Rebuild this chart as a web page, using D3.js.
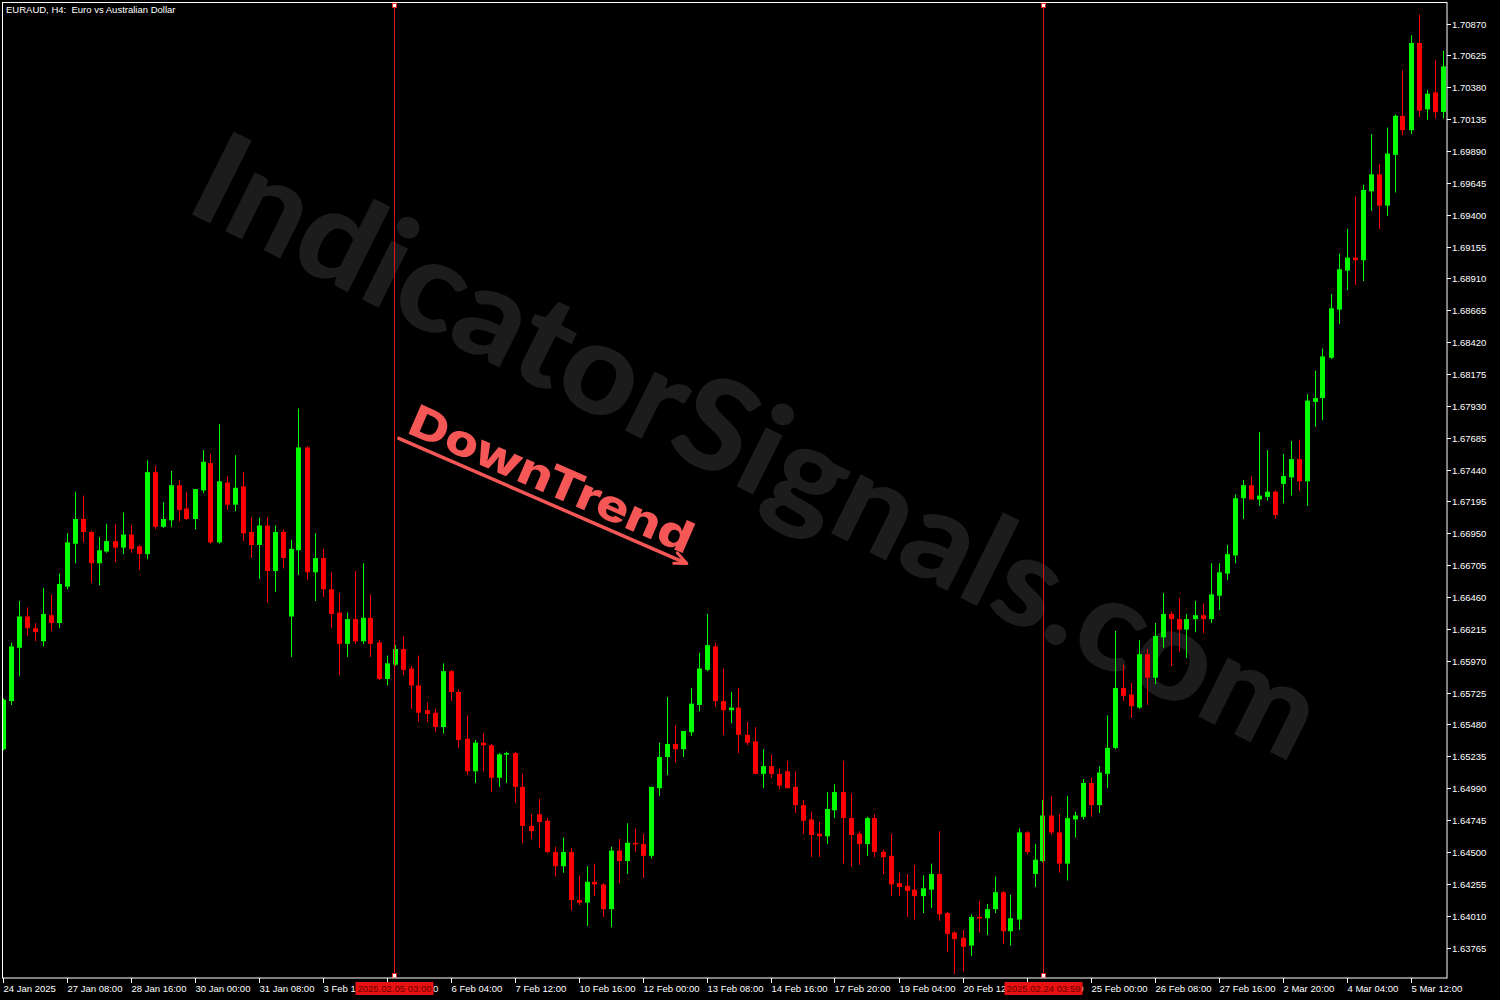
<!DOCTYPE html>
<html><head><meta charset="utf-8">
<script src="https://cdn.jsdelivr.net/npm/d3@7"></script>
<style>
html,body{margin:0;padding:0;background:#000;}
svg{display:block;}
</style></head>
<body>
<svg id="chart" width="1500" height="1000"></svg>
<script>
const symbolTitle = "EURAUD, H4:  Euro vs Australian Dollar";
const watermarkText = "IndicatorSignals.com";
const annotationText = "DownTrend";

const openP = [
1.6529,1.6566,1.6607,1.6631,1.6622,1.6612,1.6632,1.6626,1.6654,1.6687,
1.6706,1.6696,1.6672,1.6681,1.6689,1.6684,1.6694,1.6685,1.6679,1.6742,
1.6700,1.6705,1.6732,1.6714,1.6706,1.6728,1.6749,1.6688,1.6734,1.6717,
1.6731,1.6696,1.6686,1.6701,1.6666,1.6696,1.6631,1.6682,1.6761,1.6665,
1.6676,1.6652,1.6634,1.6610,1.6629,1.6612,1.6630,1.6611,1.6583,1.6594,
1.6606,1.6591,1.6578,1.6559,1.6557,1.6546,1.6589,1.6573,1.6537,1.6512,
1.6534,1.6532,1.6507,1.6525,1.6526,1.6500,1.6470,1.6479,1.6474,1.6450,
1.6439,1.6450,1.6413,1.6411,1.6427,1.6425,1.6406,1.6451,1.6443,1.6457,
1.6456,1.6447,1.6499,1.6523,1.6533,1.6529,1.6542,1.6563,1.6590,1.6608,
1.6566,1.6559,1.6561,1.6540,1.6535,1.6510,1.6516,1.6510,1.6512,1.6500,
1.6486,1.6475,1.6464,1.6462,1.6482,1.6496,1.6476,1.6464,1.6456,1.6476,
1.6450,1.6447,1.6426,1.6424,1.6421,1.6416,1.6421,1.6433,1.6403,1.6388,
1.6384,1.6378,1.6400,1.6399,1.6406,1.6419,1.6389,1.6398,1.6465,1.6433,
1.6443,1.6478,1.6465,1.6441,1.6475,1.6477,1.6503,1.6486,1.6510,1.6530,
1.6576,1.6571,1.6561,1.6602,1.6584,1.6615,1.6633,1.6629,1.6621,1.6629,
1.6632,1.6629,1.6647,1.6664,1.6678,1.6722,1.6732,1.6721,1.6723,1.6727,
1.6733,1.6738,1.6752,1.6735,1.6796,1.6799,1.6830,1.6867,1.6897,1.6907,
1.6905,1.6958,1.6971,1.6947,1.6986,1.7016,1.7005,1.7072,1.7021,1.7034,
1.7019];
const highP = [
1.6568,1.6611,1.6643,1.6638,1.6626,1.6653,1.6648,1.6664,1.6695,1.6727,
1.6724,1.6697,1.6692,1.6702,1.6702,1.6711,1.6701,1.6686,1.6751,1.6747,
1.6719,1.6743,1.6736,1.6727,1.6729,1.6759,1.6756,1.6779,1.6739,1.6755,
1.6742,1.6707,1.6707,1.6707,1.6701,1.6698,1.6690,1.6791,1.6762,1.6695,
1.6683,1.6665,1.6649,1.6634,1.6666,1.6672,1.6648,1.6613,1.6601,1.6609,
1.6616,1.6593,1.6601,1.6565,1.6560,1.6595,1.6590,1.6575,1.6555,1.6536,
1.6541,1.6533,1.6526,1.6527,1.6527,1.6510,1.6479,1.6491,1.6476,1.6454,
1.6461,1.6453,1.6432,1.6439,1.6441,1.6426,1.6454,1.6460,1.6472,1.6468,
1.6464,1.6500,1.6534,1.6569,1.6547,1.6543,1.6576,1.6603,1.6633,1.6611,
1.6591,1.6573,1.6576,1.6550,1.6546,1.6529,1.6525,1.6514,1.6520,1.6512,
1.6490,1.6481,1.6473,1.6496,1.6502,1.6520,1.6495,1.6466,1.6477,1.6479,
1.6452,1.6464,1.6434,1.6433,1.6440,1.6432,1.6441,1.6466,1.6404,1.6389,
1.6390,1.6402,1.6412,1.6410,1.6431,1.6420,1.6417,1.6468,1.6466,1.6456,
1.6490,1.6493,1.6479,1.6493,1.6481,1.6506,1.6507,1.6516,1.6555,1.6620,
1.6594,1.6580,1.6613,1.6606,1.6626,1.6649,1.6635,1.6645,1.6633,1.6643,
1.6641,1.6672,1.6672,1.6686,1.6725,1.6736,1.6739,1.6773,1.6759,1.6728,
1.6756,1.6766,1.6767,1.6802,1.6820,1.6837,1.6879,1.6910,1.6929,1.6954,
1.6963,1.7002,1.6979,1.7007,1.7017,1.7051,1.7078,1.7094,1.7036,1.7059,
1.7066];
const lowP = [
1.6528,1.6563,1.6585,1.6616,1.6612,1.6608,1.6620,1.6622,1.6652,1.6672,
1.6688,1.6657,1.6655,1.6680,1.6673,1.6679,1.6680,1.6667,1.6675,1.6698,
1.6699,1.6700,1.6704,1.6705,1.6698,1.6726,1.6687,1.6687,1.6713,1.6712,
1.6689,1.6676,1.6660,1.6642,1.6650,1.6668,1.6600,1.6663,1.6659,1.6643,
1.6646,1.6622,1.6586,1.6600,1.6610,1.6610,1.6600,1.6582,1.6578,1.6593,
1.6586,1.6560,1.6550,1.6550,1.6542,1.6541,1.6566,1.6530,1.6509,1.6503,
1.6512,1.6496,1.6500,1.6503,1.6488,1.6457,1.6460,1.6453,1.6449,1.6431,
1.6434,1.6405,1.6409,1.6393,1.6416,1.6400,1.6392,1.6426,1.6433,1.6450,
1.6430,1.6445,1.6493,1.6509,1.6519,1.6523,1.6539,1.6558,1.6589,1.6562,
1.6540,1.6549,1.6526,1.6532,1.6510,1.6499,1.6507,1.6498,1.6499,1.6480,
1.6464,1.6446,1.6446,1.6456,1.6476,1.6441,1.6439,1.6440,1.6447,1.6446,
1.6433,1.6416,1.6416,1.6400,1.6398,1.6403,1.6407,1.6397,1.6373,1.6356,
1.6358,1.6370,1.6388,1.6386,1.6403,1.6379,1.6378,1.6390,1.6448,1.6423,
1.6442,1.6463,1.6434,1.6428,1.6461,1.6475,1.6477,1.6480,1.6499,1.6529,
1.6566,1.6553,1.6560,1.6563,1.6579,1.6607,1.6593,1.6604,1.6599,1.6619,
1.6618,1.6626,1.6636,1.6659,1.6672,1.6706,1.6721,1.6716,1.6720,1.6706,
1.6718,1.6724,1.6728,1.6716,1.6777,1.6782,1.6829,1.6856,1.6882,1.6886,
1.6889,1.6943,1.6929,1.6939,1.6957,1.7001,1.7002,1.7015,1.7013,1.7014,
1.7014];
const closeP = [
1.6567,1.6608,1.6631,1.6622,1.6619,1.6633,1.6626,1.6656,1.6688,1.6706,
1.6696,1.6672,1.6682,1.6689,1.6684,1.6694,1.6683,1.6679,1.6742,1.6700,
1.6706,1.6732,1.6713,1.6706,1.6729,1.6750,1.6688,1.6735,1.6717,1.6730,
1.6695,1.6686,1.6701,1.6666,1.6696,1.6676,1.6683,1.6761,1.6665,1.6676,
1.6652,1.6633,1.6610,1.6629,1.6612,1.6630,1.6610,1.6583,1.6595,1.6606,
1.6590,1.6578,1.6557,1.6556,1.6546,1.6589,1.6573,1.6536,1.6512,1.6534,
1.6532,1.6507,1.6525,1.6526,1.6500,1.6470,1.6466,1.6473,1.6450,1.6439,
1.6450,1.6413,1.6411,1.6427,1.6425,1.6406,1.6451,1.6443,1.6457,1.6456,
1.6447,1.6500,1.6523,1.6533,1.6529,1.6543,1.6564,1.6591,1.6609,1.6566,
1.6559,1.6561,1.6540,1.6534,1.6510,1.6516,1.6510,1.6501,1.6499,1.6486,
1.6474,1.6463,1.6462,1.6483,1.6496,1.6476,1.6463,1.6456,1.6476,1.6450,
1.6446,1.6425,1.6423,1.6420,1.6416,1.6422,1.6433,1.6402,1.6387,1.6383,
1.6377,1.6400,1.6399,1.6406,1.6419,1.6389,1.6399,1.6465,1.6450,1.6444,
1.6478,1.6465,1.6441,1.6476,1.6478,1.6503,1.6486,1.6511,1.6530,1.6576,
1.6570,1.6562,1.6602,1.6584,1.6616,1.6633,1.6629,1.6621,1.6629,1.6632,
1.6629,1.6648,1.6665,1.6679,1.6722,1.6732,1.6721,1.6724,1.6727,1.6709,
1.6739,1.6752,1.6735,1.6797,1.6799,1.6831,1.6868,1.6898,1.6907,1.6905,
1.6959,1.6971,1.6947,1.6987,1.7016,1.7005,1.7072,1.7020,1.7033,1.7019,
1.7054];

const priceTicks = [
"1.70870","1.70625","1.70380","1.70135","1.69890","1.69645","1.69400","1.69155",
"1.68910","1.68665","1.68420","1.68175","1.67930","1.67685","1.67440","1.67195",
"1.66950","1.66705","1.66460","1.66215","1.65970","1.65725","1.65480","1.65235",
"1.64990","1.64745","1.64500","1.64255","1.64010","1.63765"];

const timeTickIndex = [0,8,16,24,32,40,48,56,64,72,80,88,96,104,112,120,128,136,144,152,160,168,176];
const timeTickLabels = ["24 Jan 2025","27 Jan 08:00","28 Jan 16:00","30 Jan 00:00","31 Jan 08:00",
"3 Feb 12:00","4 Feb 20:00","6 Feb 04:00","7 Feb 12:00","10 Feb 16:00","12 Feb 00:00","13 Feb 08:00",
"14 Feb 16:00","17 Feb 20:00","19 Feb 04:00","20 Feb 12:00","21 Feb 20:00","25 Feb 00:00",
"26 Feb 08:00","27 Feb 16:00","2 Mar 20:00","4 Mar 04:00","5 Mar 12:00"];

const vLineIndex = [48.95, 130.05];
const vLineLabels = ["2025.02.05 03:00","2025.02.24 03:59"];

const W = 1500, H = 1000;
const plotL = 2.5, plotR = 1447, plotT = 2.5, plotB = 978;

const svg = d3.select("#chart");
svg.append("rect").attr("width",W).attr("height",H).attr("fill","#000");

const x = d3.scaleLinear().domain([0,180]).range([2.5,1442.5]);
const y = d3.scaleLinear().domain([1.63765,1.70870]).range([947.5,23.5]);

svg.append("defs").append("clipPath").attr("id","plotclip")
  .append("rect").attr("x",plotL+0.5).attr("y",plotT+0.5).attr("width",plotR-plotL-1).attr("height",plotB-plotT-1);

// watermark
svg.append("text")
  .attr("transform","translate(183,210) rotate(26.5)")
  .attr("font-family","Lato, 'Open Sans', sans-serif")
  .attr("font-weight",900)
  .attr("font-size",128)
  .attr("fill","#1c1c1c")
  .attr("textLength",1240)
  .attr("lengthAdjust","spacingAndGlyphs")
  .text(watermarkText);

// title
svg.append("text").attr("x",6).attr("y",13)
  .attr("font-family","'Liberation Sans', Arial, sans-serif").attr("font-size",9.5)
  .attr("fill","#fff").attr("xml:space","preserve").style("white-space","pre")
  .text(symbolTitle);

const data = openP.map((o,i)=>({i, o, h:highP[i], l:lowP[i], c:closeP[i]}));

const g = svg.append("g").attr("clip-path","url(#plotclip)");
const cols = d => d.c >= d.o ? "#00ff00" : "#ff0000";

g.selectAll("line.wick").data(data).join("line")
  .attr("x1",d=>Math.round(x(d.i))+0.5).attr("x2",d=>Math.round(x(d.i))+0.5)
  .attr("y1",d=>y(d.h)).attr("y2",d=>y(d.l))
  .attr("stroke",cols).attr("stroke-width",1);

g.selectAll("rect.body").data(data).join("rect")
  .attr("x",d=>Math.round(x(d.i))-2).attr("width",5)
  .attr("y",d=>y(Math.max(d.o,d.c)))
  .attr("height",d=>Math.max(1.5, Math.abs(y(d.o)-y(d.c))))
  .attr("fill",cols);

// vertical lines
vLineIndex.forEach((vi,k)=>{
  const vx = Math.round(x(vi))+0.5;
  svg.append("line").attr("x1",vx).attr("x2",vx).attr("y1",plotT+2).attr("y2",plotB-2)
    .attr("stroke","#e01414").attr("stroke-width",1).attr("shape-rendering","crispEdges");
  [plotT+3, plotB-2.5].forEach(sy=>{
    svg.append("rect").attr("x",vx-2).attr("y",sy-2).attr("width",4).attr("height",4)
      .attr("fill","#fff").attr("stroke","#e02020").attr("stroke-width",1);
  });
});

// frame
svg.append("rect").attr("x",plotL).attr("y",plotT).attr("width",plotR-plotL).attr("height",plotB-plotT)
  .attr("fill","none").attr("stroke","#fff").attr("stroke-width",1);

// price axis
const yAxis = svg.append("g");
priceTicks.forEach(t=>{
  const yy = Math.round(y(+t))+0.5;
  yAxis.append("line").attr("x1",plotR).attr("x2",plotR+4).attr("y1",yy).attr("y2",yy).attr("stroke","#fff");
  yAxis.append("text").attr("x",plotR+5).attr("y",yy+3.5)
    .attr("font-family","'Liberation Sans', Arial, sans-serif").attr("font-size",9.5)
    .attr("fill","#fff").text(t);
});

// time axis
const xAxis = svg.append("g");
timeTickIndex.forEach((ti,k)=>{
  const xx = Math.round(x(ti))+0.5;
  xAxis.append("line").attr("x1",xx).attr("x2",xx).attr("y1",plotB).attr("y2",plotB+5).attr("stroke","#fff");
  xAxis.append("text").attr("x",xx).attr("y",992)
    .attr("font-family","'Liberation Sans', Arial, sans-serif").attr("font-size",9.5)
    .attr("fill","#fff").text(timeTickLabels[k]);
});

// vline time labels (cover the tick labels beneath, as in the terminal)
vLineIndex.forEach((vi,k)=>{
  const vx = Math.round(x(vi))+0.5;
  const bw = 78;
  svg.append("rect").attr("x",vx-bw/2).attr("y",982).attr("width",bw).attr("height",13).attr("fill","#e81010");
  svg.append("text").attr("x",vx).attr("y",992).attr("text-anchor","middle")
    .attr("font-family","'Liberation Sans', Arial, sans-serif").attr("font-size",9.5)
    .attr("fill","#600").text(vLineLabels[k]);
});

// DownTrend annotation
const ann = svg.append("g").attr("transform","translate(402,431) rotate(23.5)");
ann.append("text").attr("x",4).attr("y",0)
  .attr("font-family","Inter, 'Open Sans', sans-serif").attr("font-weight",800)
  .attr("font-size",44).attr("fill","#f55656")
  .attr("textLength",305).attr("lengthAdjust","spacingAndGlyphs")
  .text(annotationText);
ann.append("line").attr("x1",0).attr("y1",8).attr("x2",313).attr("y2",8)
  .attr("stroke","#f55656").attr("stroke-width",3.5).attr("stroke-linecap","round");
ann.append("path").attr("d","M301,2 L314,8 L302,13")
  .attr("fill","none").attr("stroke","#f55656").attr("stroke-width",3).attr("stroke-linecap","round").attr("stroke-linejoin","round");
</script>
</body></html>
